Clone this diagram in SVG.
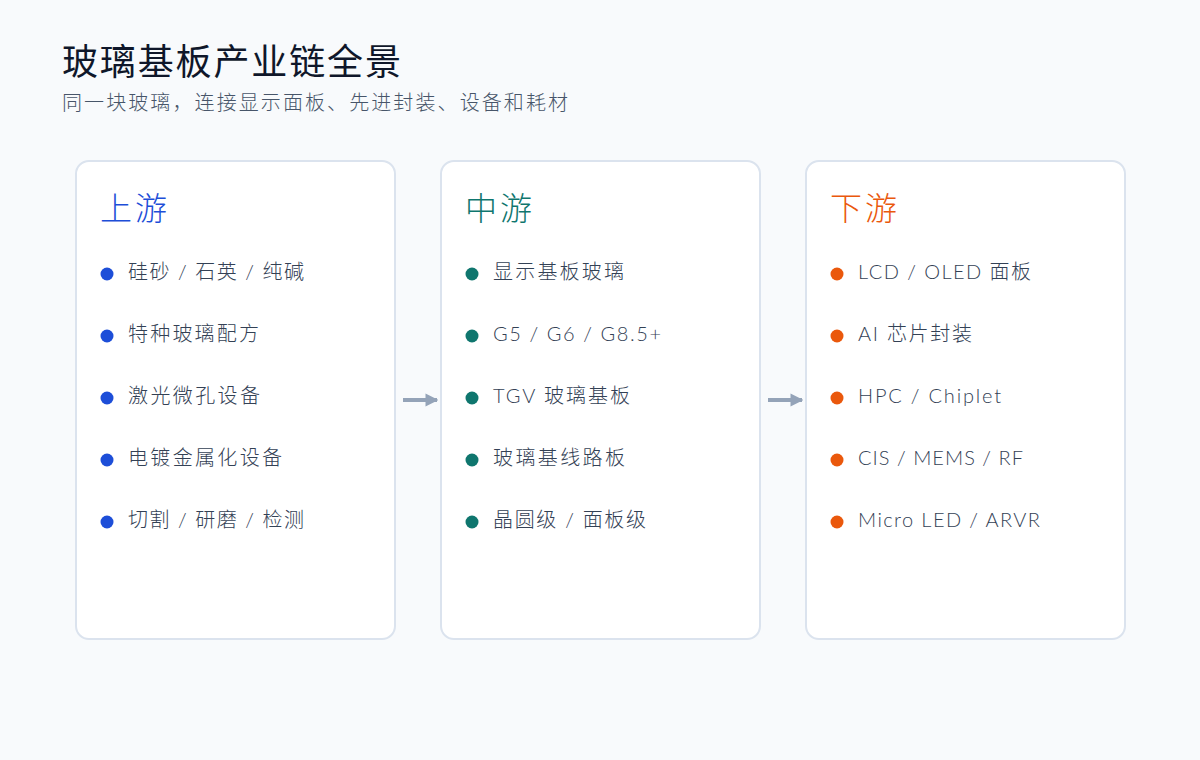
<svg xmlns="http://www.w3.org/2000/svg" width="1200" height="760" viewBox="0 0 1200 760">
<defs>
<style>
text{font-family:Lato,"Noto Sans CJK SC",sans-serif}
.title{font-size:36px;fill:#0f172a}
.sub{font-size:20px;fill:#475569;font-weight:300}
.card{fill:#ffffff;stroke:#dbe3ee;stroke-width:2}
.head{font-size:32px;font-weight:300}
.item{font-size:20px;fill:#334155;font-weight:300}
.conn{stroke:#94a3b8;stroke-width:4;fill:none}
</style>
<marker id="ah" viewBox="0 0 10 10" refX="9" refY="5" markerWidth="3.2" markerHeight="3.6" markerUnits="strokeWidth" orient="auto">
<path d="M0,0 L10,5 L0,10 Z" fill="#94a3b8"/>
</marker>
</defs>
<rect width="1200" height="760" fill="#f8fafc"/>
<text class="title" x="62" y="75" textLength="339" lengthAdjust="spacing">玻璃基板产业链全景</text>
<text class="sub" x="62" y="110" textLength="506" lengthAdjust="spacing">同一块玻璃，连接显示面板、先进封装、设备和耗材</text>
<g id="upstream">
<rect class="card" x="76" y="161" width="319" height="478" rx="13"/>
<text class="head" x="100" y="220" fill="#1d4ed8" textLength="67" lengthAdjust="spacing">上游</text>
<g fill="#1d4ed8">
<circle cx="107" cy="274" r="6.5"/><circle cx="107" cy="336" r="6.5"/><circle cx="107" cy="398" r="6.5"/><circle cx="107" cy="460" r="6.5"/><circle cx="107" cy="522" r="6.5"/>
</g>
<text class="item" x="128" y="279" textLength="176" lengthAdjust="spacing">硅砂 / 石英 / 纯碱</text>
<text class="item" x="128" y="341" textLength="131" lengthAdjust="spacing">特种玻璃配方</text>
<text class="item" x="128" y="403" textLength="132" lengthAdjust="spacing">激光微孔设备</text>
<text class="item" x="128" y="465" textLength="154" lengthAdjust="spacing">电镀金属化设备</text>
<text class="item" x="128" y="527" textLength="176" lengthAdjust="spacing">切割 / 研磨 / 检测</text>
</g>
<g id="midstream">
<rect class="card" x="441" y="161" width="319" height="478" rx="13"/>
<text class="head" x="465" y="220" fill="#0f766e" textLength="67" lengthAdjust="spacing">中游</text>
<g fill="#0f766e">
<circle cx="472" cy="274" r="6.5"/><circle cx="472" cy="336" r="6.5"/><circle cx="472" cy="398" r="6.5"/><circle cx="472" cy="460" r="6.5"/><circle cx="472" cy="522" r="6.5"/>
</g>
<text class="item" x="493" y="279" textLength="131" lengthAdjust="spacing">显示基板玻璃</text>
<text class="item" x="493" y="341" textLength="168" lengthAdjust="spacing">G5 / G6 / G8.5+</text>
<text class="item" x="493" y="403" textLength="137" lengthAdjust="spacing">TGV 玻璃基板</text>
<text class="item" x="493" y="465" textLength="132" lengthAdjust="spacing">玻璃基线路板</text>
<text class="item" x="493" y="527" textLength="153" lengthAdjust="spacing">晶圆级 / 面板级</text>
</g>
<g id="downstream">
<rect class="card" x="806" y="161" width="319" height="478" rx="13"/>
<text class="head" x="830" y="220" fill="#ea580c" textLength="67" lengthAdjust="spacing">下游</text>
<g fill="#ea580c">
<circle cx="837" cy="274" r="6.5"/><circle cx="837" cy="336" r="6.5"/><circle cx="837" cy="398" r="6.5"/><circle cx="837" cy="460" r="6.5"/><circle cx="837" cy="522" r="6.5"/>
</g>
<text class="item" x="858" y="279" textLength="173" lengthAdjust="spacing">LCD / OLED 面板</text>
<text class="item" x="858" y="341" textLength="114" lengthAdjust="spacing">AI 芯片封装</text>
<text class="item" x="858" y="403" textLength="143" lengthAdjust="spacing">HPC / Chiplet</text>
<text class="item" x="858" y="465" textLength="165" lengthAdjust="spacing">CIS / MEMS / RF</text>
<text class="item" x="858" y="527" textLength="182" lengthAdjust="spacing">Micro LED / ARVR</text>
</g>
<g id="connectors">
<line class="conn" x1="403" y1="400" x2="437" y2="400" marker-end="url(#ah)"/>
<line class="conn" x1="768" y1="400" x2="802" y2="400" marker-end="url(#ah)"/>
</g>
</svg>
